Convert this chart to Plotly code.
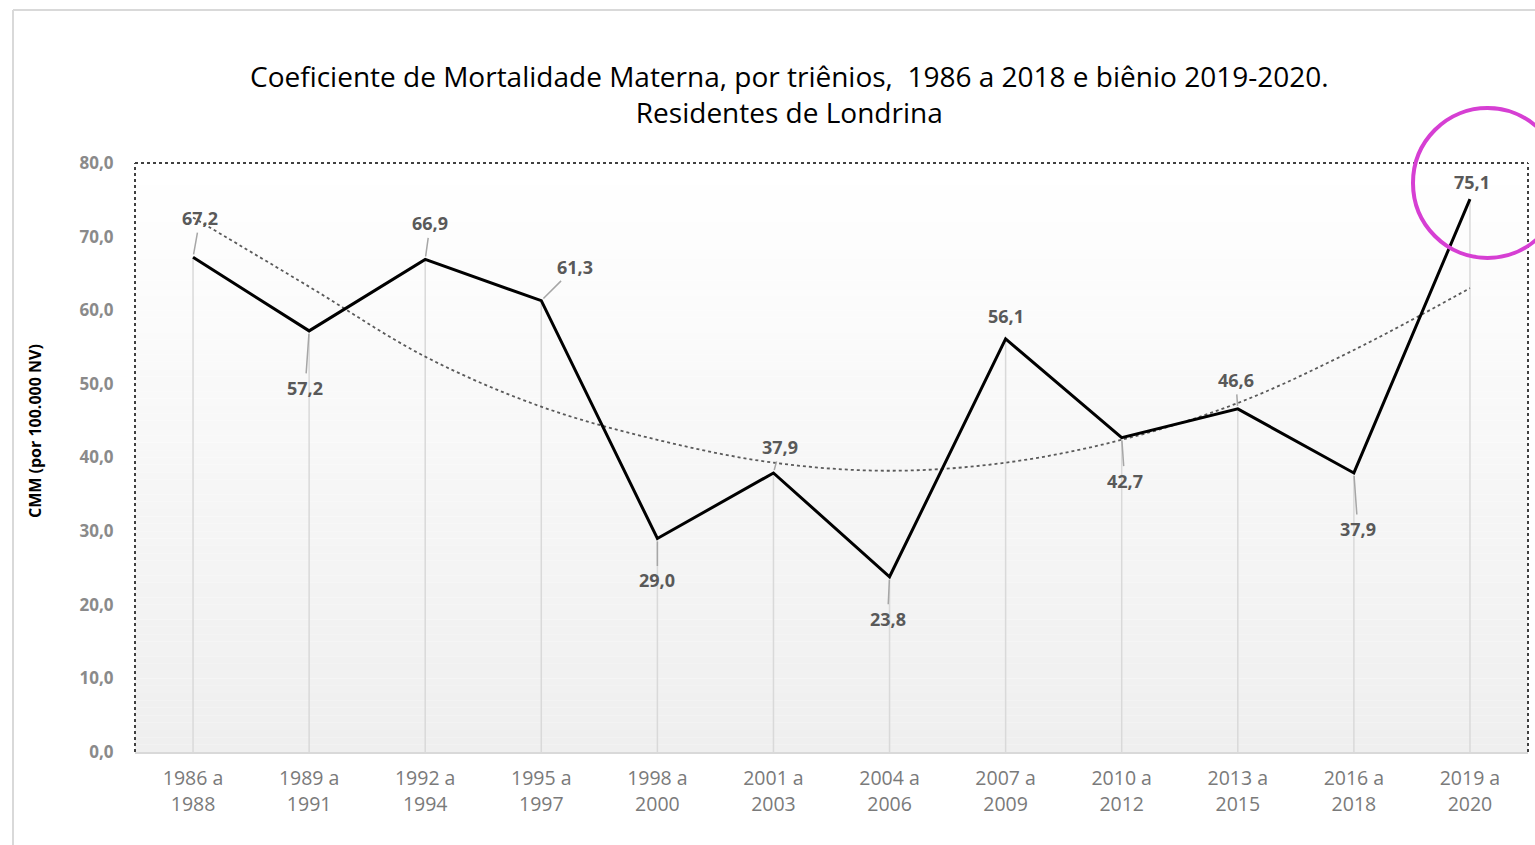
import plotly.graph_objects as go

categories = ["1986 a<br>1988", "1989 a<br>1991", "1992 a<br>1994", "1995 a<br>1997",
              "1998 a<br>2000", "2001 a<br>2003", "2004 a<br>2006", "2007 a<br>2009",
              "2010 a<br>2012", "2013 a<br>2015", "2016 a<br>2018", "2019 a<br>2020"]
cmm = [67.2, 57.2, 66.9, 61.3, 29.0, 37.9, 23.8, 56.1, 42.7, 46.6, 37.9, 75.1]
# polynomial trend line (order 2)
trend = [72.6, 63.2, 53.7, 46.9, 42.4, 39.3, 38.2, 39.3, 42.4, 47.4, 54.6, 63.0]
y_ticks = [0, 10, 20, 30, 40, 50, 60, 70, 80]

# label offsets in pixels (ax, ay) and whether a leader line is drawn
label_offsets = [(7, -39), (-4, 57), (5, -36), (34, -34), (0, 42), (7, -26),
                 (-2, 42), (0, -23), (3, 43), (-2, -29), (4, 56), (2, -17)]
leaders = [True, True, True, True, True, True, True, False, True, True, True, False]

W, H = 1535, 845
L, R, T, B = 135, 7, 163, 93
PW, PH = W - L - R, H - T - B


def px(xp):
    return (xp - L) / PW


def py(yp):
    return (H - B - yp) / PH


FONT = "Open Sans"
fig = go.Figure()

# drop lines
fig.add_trace(go.Scatter(
    x=categories, y=cmm, mode="markers",
    marker=dict(size=1, color="rgba(0,0,0,0)"),
    error_y=dict(type="data", symmetric=False, array=[0] * len(cmm), arrayminus=cmm,
                 color="#d9d9d9", thickness=1.5, width=0),
    hoverinfo="skip", showlegend=False))

# trend line
fig.add_trace(go.Scatter(
    x=categories, y=trend, mode="lines",
    line=dict(color="#5a5a5a", width=1.8, dash="dot", shape="spline"),
    hoverinfo="skip", showlegend=False))

# main line
fig.add_trace(go.Scatter(
    x=categories, y=cmm, mode="lines",
    line=dict(color="#000000", width=3),
    showlegend=False))

annotations = []
for c, v, (ax, ay), ld in zip(categories, cmm, label_offsets, leaders):
    annotations.append(dict(
        x=c, y=v, xref="x", yref="y", ax=ax, ay=ay,
        text="<b>" + f"{v:.1f}".replace(".", ",") + "</b>",
        showarrow=True, arrowhead=0, arrowwidth=1.5,
        arrowcolor="#a6a6a6" if ld else "rgba(0,0,0,0)",
        standoff=3, startstandoff=1,
        font=dict(family=FONT, size=18, color="#595959")))

annotations.append(dict(
    x=px(789), y=py(94), xref="paper", yref="paper", xanchor="center", yanchor="middle",
    text="Coeficiente de Mortalidade Materna, por triênios,&nbsp; 1986 a 2018 e biênio 2019-2020.<br>Residentes de Londrina",
    showarrow=False, font=dict(family=FONT, size=28, color="#000000")))

annotations.append(dict(
    x=px(35), y=py(431), xref="paper", yref="paper", xanchor="center", yanchor="middle",
    text="<b>CMM (por 100.000 NV)</b>", textangle=-90,
    showarrow=False, font=dict(family=FONT, size=16, color="#000000")))

shapes = []
# gradient background of the plot area
N = 80
for i in range(N):
    t = i / (N - 1)
    g = int(round(239 + (255 - 239) * t))
    shapes.append(dict(type="rect", xref="paper", yref="paper",
                       x0=0, x1=1, y0=i / N, y1=(i + 1) / N,
                       fillcolor=f"rgb({g},{g},{g})", line=dict(width=0), layer="below"))

dot = dict(color="#404040", width=2, dash="dot")
shapes.append(dict(type="line", xref="paper", yref="paper", x0=0, x1=1, y0=1, y1=1, line=dot))
shapes.append(dict(type="line", xref="paper", yref="paper", x0=0, x1=0, y0=0, y1=1, line=dot))
shapes.append(dict(type="line", xref="paper", yref="paper", x0=1, x1=1, y0=0, y1=1, line=dot))

# outer chart frame
frame = dict(color="#d9d9d9", width=2)
shapes.append(dict(type="line", xref="paper", yref="paper", x0=px(13), x1=px(1540), y0=py(10), y1=py(10), line=frame))
shapes.append(dict(type="line", xref="paper", yref="paper", x0=px(13), x1=px(13), y0=py(10), y1=py(850), line=frame))

# highlight circle
shapes.append(dict(type="circle", xref="paper", yref="paper",
                   x0=px(1413), x1=px(1562), y0=py(258), y1=py(108),
                   line=dict(color="#d63fd3", width=4)))

fig.update_layout(
    width=W, height=H,
    margin=dict(l=L, r=R, t=T, b=B),
    paper_bgcolor="white", plot_bgcolor="white",
    separators=",.",
    font=dict(family=FONT),
    showlegend=False,
    annotations=annotations,
    shapes=shapes,
    xaxis=dict(type="category", range=[-0.5, len(categories) - 0.5],
               showgrid=False, zeroline=False,
               showline=True, linecolor="#d9d9d9", linewidth=2,
               ticks="outside", ticklen=8, tickcolor="rgba(0,0,0,0)",
               tickfont=dict(family=FONT, size=19.5, color="#7a7a7a")),
    yaxis=dict(range=[0, 80], tickvals=y_ticks, tickformat=".1f",
               showgrid=False, zeroline=False, showline=False,
               ticks="outside", ticklen=17, tickcolor="rgba(0,0,0,0)",
               tickfont=dict(family=FONT, size=17, color="#8a8a8a", weight="bold")),
)

fig.write_html("out.html")
